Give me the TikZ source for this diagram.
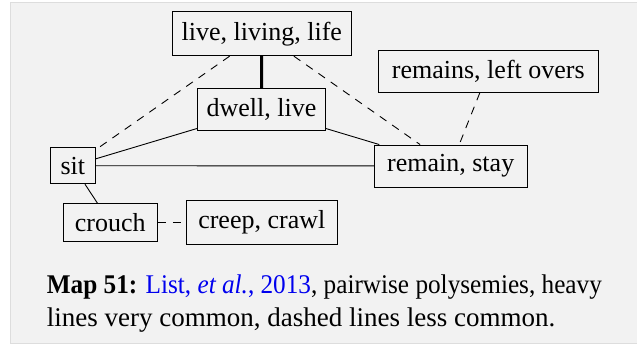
\documentclass[tikz,border=0pt]{standalone}
\usepackage{fontspec}
\setmainfont{Liberation Serif}
\definecolor{panelgray}{HTML}{F2F2F2}
\definecolor{panelborder}{HTML}{DDDDDD}
\definecolor{linkblue}{HTML}{0000EE}
\newsavebox\capfirstbox
\newcommand\fitcapline[2]{%
  \sbox\capfirstbox{#2}%
  \ifdim\wd\capfirstbox>#1\relax
    \resizebox{#1}{\height}{\usebox\capfirstbox}%
  \else
    \makebox[#1][s]{#2}%
  \fi}
\begin{document}
\begin{tikzpicture}[x=1pt,y=-1pt,
  box/.style={draw=black, line width=0.9pt, inner sep=0pt, font=\fontsize{26}{30}\selectfont},
  link/.style={line width=0.9pt},
  weak/.style={line width=0.9pt, dash pattern=on 8pt off 7pt},
  heavy/.style={line width=3pt},
  captxt/.style={anchor=base west, inner sep=0pt, font=\fontsize{27}{32}\selectfont}]
\useasboundingbox (0,0) rectangle (637,345);
\draw[fill=panelgray, draw=panelborder, line width=1pt] (10.5,2.7) rectangle (650,343.5);
\node[box, minimum width=179pt, minimum height=44pt] (live) at (261.8,33.7) {live, living, life};
\node[box, minimum width=220.7pt, minimum height=41.6pt] (remains) at (488.3,71.5) {remains, left overs};
\node[box, minimum width=127.6pt, minimum height=41.7pt] (dwell) at (261.5,109.2) {dwell, live};
\node[box, minimum width=45.7pt, minimum height=36pt] (sit) at (72.8,165.7) {sit};
\node[box, minimum width=152.7pt, minimum height=42pt] (remain) at (450.7,166) {remain, stay};
\node[box, minimum width=94pt, minimum height=38pt] (crouch) at (110.3,222.7) {crouch};
\node[box, minimum width=151.7pt, minimum height=44pt] (creep) at (261.8,222.7) {creep, crawl};
\draw[heavy] (live) -- (dwell);
\draw[weak] (live) -- (sit);
\draw[weak] (live) -- (remain);
\draw[weak] (remains) -- (remain);
\draw[link] (sit) -- (dwell);
\draw[link] (dwell) -- (remain);
\draw[link] (sit) -- (remain);
\draw[link] (sit) -- (crouch);
\draw[weak] (crouch) -- (creep);
\node[captxt] (cap1) at (46.7,293.7) {\fitcapline{555pt}{\textbf{Map 51:} \textcolor{linkblue}{List, \textit{et al.}, 2013}, pairwise polysemies, heavy}};
\node[captxt] (cap2) at (46.7,326) {lines very common, dashed lines less common.};
\end{tikzpicture}
\end{document}
